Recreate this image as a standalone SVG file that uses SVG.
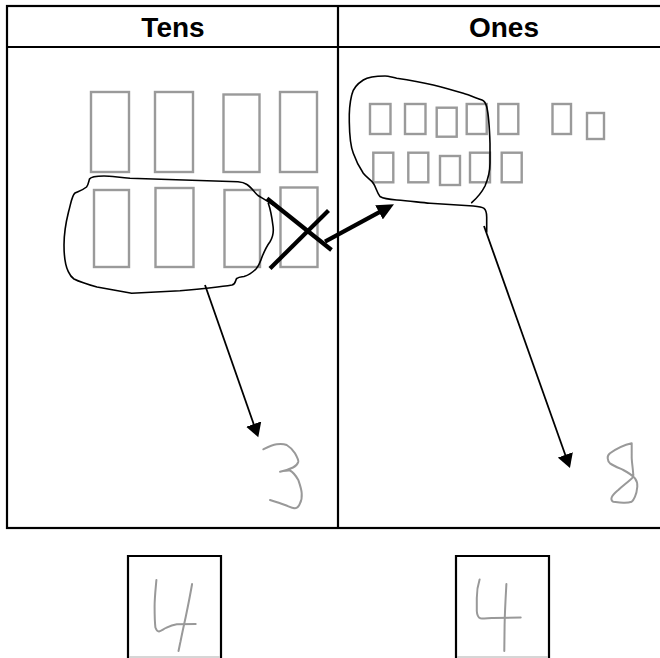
<svg xmlns="http://www.w3.org/2000/svg" width="660" height="658" viewBox="0 0 660 658">
  <defs>
    <style>
      .grid { fill: none; stroke: #000; stroke-width: 2.2; }
      .head { font-family: "Liberation Sans", Arial, sans-serif; font-weight: bold; font-size: 28px; fill: #000; text-anchor: middle; }
      .block { fill: none; stroke: #9a9a9a; stroke-width: 2.4; }
      .ink { fill: none; stroke: #000; stroke-width: 1.6; stroke-linejoin: round; stroke-linecap: round; }
      .pencil { fill: none; stroke: #999; stroke-width: 2; stroke-linejoin: round; stroke-linecap: round; }
      .thin { fill: none; stroke: #000; stroke-width: 1.8; }
      .thick { fill: none; stroke: #000; stroke-width: 4.2; }
      .answer { fill: none; stroke: #000; stroke-width: 2.2; }
    </style>
    <marker id="head-thin" markerUnits="userSpaceOnUse" markerWidth="16" markerHeight="16" refX="1" refY="8" orient="auto">
      <path d="M0,0 L14,8 L0,16 z" fill="#000"/>
    </marker>
    <marker id="head-thick" markerUnits="userSpaceOnUse" markerWidth="18" markerHeight="16" refX="1" refY="8" orient="auto">
      <path d="M0,0 L17,8 L0,16 z" fill="#000"/>
    </marker>
  </defs>

  <rect width="660" height="658" fill="#fff"/>

  <!-- place value chart -->
  <g id="chart">
    <rect class="grid" x="7" y="6" width="680" height="522"/>
    <line class="grid" x1="7" y1="47" x2="660" y2="47"/>
    <line class="grid" x1="338" y1="6" x2="338" y2="528"/>
    <text class="head" x="173" y="37">Tens</text>
    <text class="head" x="504" y="37">Ones</text>
  </g>

  <!-- ten rods -->
  <g id="tens-blocks">
    <rect class="block" x="91" y="92" width="38" height="80"/>
    <rect class="block" x="155" y="92" width="38" height="80"/>
    <rect class="block" x="223.5" y="94.5" width="36" height="77.5"/>
    <rect class="block" x="280" y="92" width="37" height="80"/>
    <rect class="block" x="94" y="190" width="35" height="77"/>
    <rect class="block" x="155.5" y="188" width="38" height="79"/>
    <rect class="block" x="224.5" y="190" width="35.5" height="77"/>
    <rect class="block" x="280.5" y="187.5" width="37" height="79.5"/>
  </g>

  <!-- unit cubes -->
  <g id="ones-blocks">
    <rect class="block" x="370" y="104" width="20.5" height="30"/>
    <rect class="block" x="405" y="104" width="20.5" height="30"/>
    <rect class="block" x="436.7" y="107.7" width="20" height="29"/>
    <rect class="block" x="466.7" y="104" width="20" height="30"/>
    <rect class="block" x="498.3" y="104" width="20" height="30"/>
    <rect class="block" x="552.5" y="104" width="18.5" height="30"/>
    <rect class="block" x="587" y="113" width="17" height="26"/>
    <rect class="block" x="373.3" y="152.7" width="20" height="29.6"/>
    <rect class="block" x="408.3" y="152.7" width="20" height="29.6"/>
    <rect class="block" x="440" y="156" width="20" height="29"/>
    <rect class="block" x="470" y="152.7" width="20" height="29.6"/>
    <rect class="block" x="501.7" y="152.7" width="20" height="29.6"/>
  </g>

  <!-- loop round the six traded rods -->
  <g id="tens-loop">
    <path class="ink" d="M273.3,205 C266,200 262,198 258,195.5 C254,192 251,187 247,184.5 C244,182.5 242,182 238,181.7 L130,178.3 C118,177.3 110,176 104,176 C96,176 91,176.5 89.5,179 C88.5,182 88.5,184.5 86.5,187 C83,190 78,191.5 75,193 C72,195 71,203 68.5,212 C66,222 64,232 64,245 C64,258 65.5,266 68.3,271.7 C70,275.5 71,277 74,279 C80,282 88,284.5 97,287 L131.7,293.3 L180,290.7 C200,289 220,287 232,285 C236.5,283.5 235,279.5 237,278.3 C239,277 241,277 244,276.5 C249,275 252,273 256,269 C258.5,266 260,263 262,257 C264,252 266,247 270,241.7 C273,237 274,233 273,226 C272,218 271,211 268.3,203.3"/>
  </g>

  <!-- loop round ten ones -->
  <g id="ones-loop">
    <path class="ink" d="M471.7,202.7 C478,197 482,192 485,186 C488,179 490,172 490,163 L490,143.3 C489.5,128 488.5,114 486.7,106.7 C485.5,102 484.5,101 482,100 C475,97.5 469,95 463.3,93.3 C452,90 443,87.5 433.3,85 C420,82 408,80 396.7,78.3 C391,77 388,76 385,76 C377,76 368,77 363.3,80 C357,84 353,88 351.7,95 C349.5,104 349,112 349.3,122 C349.5,135 350,145 353.3,153.3 C356,161 359,167 363.3,173.3 C367,178 371,180 373.3,183.3 C376,187 377,193 380,196.5 C384,199 390,199.5 396.7,200 C410,201 420,202.5 430,203.3 L473.3,206 C478,206.5 482,207 484,208.3 C486.5,210.5 486.7,213 486.7,217 L486.7,232"/>
  </g>

  <!-- cross over the traded rod -->
  <g id="cross-out">
    <line class="thick" x1="267" y1="198.5" x2="331.5" y2="250"/>
    <line class="thick" x1="270" y1="268.5" x2="328.5" y2="210.5"/>
  </g>

  <!-- handwritten digits -->
  <g id="tens-digit">
    <path class="pencil" d="M263.3,449.3 C268,447 272,445 276.7,444.3 C280,443.8 284,444 286.7,445 C290,447 293,450 295,453.3 C297,457 298.5,459.5 298.3,461.7 C297.5,464.5 296,466 293,467.5 C289,469.5 284,471 280,471.7 C284,471 287,470 290,470.5 C293,472 296,476 298.3,480 C300,485 301.5,489 301.7,493.3 C302,497 301.5,500.5 300,503.3 C299,506 297.5,508 295,508.3 C292,508.5 289,506.5 285,505 C280,503 275,501.5 270,500"/>
  </g>
  <g id="ones-digit">
    <path class="pencil" d="M631.7,443.3 C624,445 616,449 610,453.3 C608,455 607.5,457 607.7,458.3 C608,461 609,462.5 610,463.3 C614,466 619,468 623.3,470 C628,472.5 632,475 635,478.3 C637,481 637.5,484 637.3,486.7 C637,490 636.5,493.5 635,496.7 C634,499 633,501 631.7,501.7 C628.5,502.8 626,502.8 623.3,502.7 C619,502.5 616,502 613.3,501.7 C611.5,501 611,499 611.7,497.3 C613,494.5 616,492 618.3,490 C622,486.5 626,483.5 630,480 C632,478.5 633.5,476.5 633.3,475 C633,469 632,464 631.7,458 L631.7,443.3"/>
  </g>

  <!-- arrows -->
  <g id="connectors">
    <line class="thin" x1="205" y1="285" x2="254" y2="425" marker-end="url(#head-thin)"/>
    <line class="thin" x1="484" y1="226" x2="565.6" y2="455.8" marker-end="url(#head-thin)"/>
    <line class="thick" x1="325" y1="241.7" x2="379.9" y2="211.9" marker-end="url(#head-thick)"/>
  </g>

  <!-- answer boxes -->
  <g id="tens-answer">
    <path class="answer" d="M128,659 L128,556 L221,556 L221,659"/>
    <line x1="129" y1="657" x2="220" y2="657" stroke="#c8c8c8" stroke-width="1.5"/>
    <path class="pencil" d="M156.4,580 C155.5,590 154.6,598 154.6,606.4 C154.6,614 154.8,622 155.4,627.5 C156.5,630.5 157.5,631.5 159,631.4 C161,631 163.5,629 166,627.9 C170,626 173.5,624.8 176.8,624.3 L195.7,624"/>
    <path class="pencil" d="M192.1,584 C190,596 188,606 185.7,617 C183.5,627 182,634 180.4,642 C179.5,646 179,649 178.5,651"/>
  </g>
  <g id="ones-answer">
    <path class="answer" d="M456,659 L456,556 L549,556 L549,659"/>
    <line x1="457" y1="657" x2="548" y2="657" stroke="#c8c8c8" stroke-width="1.5"/>
    <path class="pencil" d="M479.6,579.5 C477.5,586 476.8,592 476.8,598 L476.8,611 C477,615 478,617.5 480.4,618.3 C484,619 488,618.5 492.9,618 L520.7,617.5"/>
    <path class="pencil" d="M506.4,584 C505.5,600 504.8,612 504.6,625 C504.4,636 504.3,645 504.3,651"/>
  </g>
</svg>
